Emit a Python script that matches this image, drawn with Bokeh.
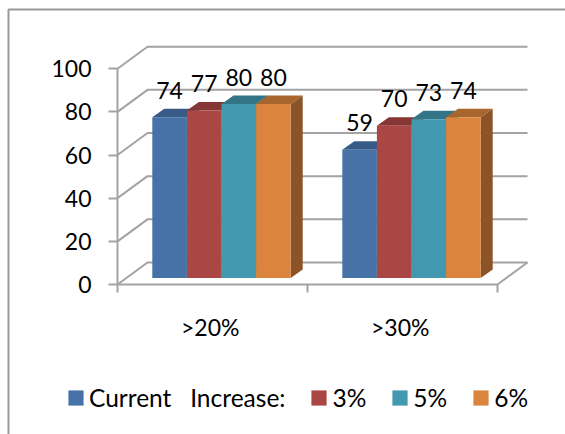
from bokeh.core.properties import value
from bokeh.embed import file_html
from bokeh.models import BoxAnnotation, ColumnDataSource, FixedTicker, Legend, LegendItem, LinearAxis, Range1d
from bokeh.plotting import figure
from bokeh.resources import INLINE

# Chart values
groups = [">20%", ">30%"]
series_names = ["Current\u00a0\u00a0\u00a0Increase:", "3%", "5%", "6%"]
current = [74, 59]
increase_3 = [77, 70]
increase_5 = [80, 73]
increase_6 = [80, 74]
value_ticks = [0, 20, 40, 60, 80, 100]

# Face colours per series: front, top, side
front_colors = ["#4672A8", "#AA4644", "#4198AF", "#DB843D"]
top_colors = ["#375B86", "#863635", "#337587", "#A8652E"]
side_colors = ["#35557E", "#7F3433", "#2F6E80", "#8A5428"]

FONT = "Lato"
FONT_SIZE = "23px"
LEGEND_FONT_SIZE = "24.5px"
AXIS_GRAY = "#A3A3A3"

# Pixel scale of the two axes and where the origin sits on the page
PX_PER_GROUP = 190.0
PX_PER_UNIT = 2.158
ORIGIN_X, ORIGIN_Y = 117, 284
WIDTH, HEIGHT = 565, 434


def px_x(px):
    return px / PX_PER_GROUP


def px_y(px):
    return px / PX_PER_UNIT


p = figure(
    width=WIDTH,
    height=HEIGHT,
    output_backend="svg",
    toolbar_location=None,
    x_axis_type=None,
    y_axis_type=None,
    x_range=Range1d(px_x(-ORIGIN_X), px_x(WIDTH - ORIGIN_X)),
    y_range=Range1d(px_y(ORIGIN_Y - HEIGHT), px_y(ORIGIN_Y)),
    min_border=0,
    background_fill_color="white",
    border_fill_color="white",
    outline_line_color=None,
)
p.grid.visible = False

# Outer frame of the chart area: only its left and top edges fall on the page
p.add_layout(BoxAnnotation(
    left=8, right=640, top=9, bottom=520,
    left_units="canvas", right_units="canvas", top_units="canvas", bottom_units="canvas",
    fill_alpha=0, line_color="#9A9A9A", line_alpha=1, line_width=2,
))

# Back wall: each gridline runs up the side wall and across the rear plane
WALL_DX, WALL_DY = px_x(30), px_y(22)
x_end = len(groups)
grid_xs = [[0, WALL_DX, x_end + WALL_DX] for _ in value_ticks]
grid_ys = [[t, t + WALL_DY, t + WALL_DY] for t in value_ticks]
p.multi_line(grid_xs, grid_ys, line_color=AXIS_GRAY, line_width=2)
p.line([x_end, x_end + WALL_DX], [0, WALL_DY], line_color=AXIS_GRAY, line_width=2)

# 3D columns
BAR_W = px_x(34.6)
BAR_START = px_x(34.8)
BAR_BASE = px_y(6.4)
BAR_STRETCH = 1.008
DEPTH_X, DEPTH_Y = px_x(12), px_y(8.5)

all_series = [current, increase_3, increase_5, increase_6]
legend_items = []
for s, values in enumerate(all_series):
    lefts = [g + BAR_START + s * BAR_W for g in range(len(groups))]
    rights = [x + BAR_W for x in lefts]
    tops = [BAR_BASE + v * BAR_STRETCH for v in values]
    bases = [BAR_BASE] * len(values)

    p.patches(
        [[l, r, r + DEPTH_X, l + DEPTH_X] for l, r in zip(lefts, rights)],
        [[t, t, t + DEPTH_Y, t + DEPTH_Y] for t in tops],
        fill_color=top_colors[s], line_color=None,
    )
    p.patches(
        [[r, r + DEPTH_X, r + DEPTH_X, r] for r in rights],
        [[b, b + DEPTH_Y, t + DEPTH_Y, t] for b, t in zip(bases, tops)],
        fill_color=side_colors[s], line_color=None,
    )
    source = ColumnDataSource(dict(
        left=lefts, right=rights, top=tops, bottom=bases,
        x=[(l + r) / 2 for l, r in zip(lefts, rights)],
        label=[str(v) for v in values],
    ))
    front = p.quad(
        left="left", right="right", top="top", bottom="bottom", source=source,
        fill_color=front_colors[s], line_color=None,
    )
    p.text(
        x="x", y="top", text="label", source=source,
        text_font=value(FONT), text_font_size=value(FONT_SIZE), text_color="black",
        text_align="center", text_baseline="middle", y_offset=-27,
    )
    legend_items.append(LegendItem(label=series_names[s], renderers=[front]))

# Value axis, pinned to the group origin inside the canvas
y_axis = LinearAxis(
    fixed_location=0,
    bounds=(value_ticks[0], value_ticks[-1]),
    ticker=FixedTicker(ticks=value_ticks),
    axis_line_color=AXIS_GRAY, axis_line_width=2,
    major_tick_line_color=AXIS_GRAY, major_tick_line_width=2,
    major_tick_out=9, major_tick_in=0,
    minor_tick_line_color=None,
    major_label_text_font=FONT, major_label_text_font_size=FONT_SIZE,
    major_label_text_color="black", major_label_standoff=17,
)
p.add_layout(y_axis, "left")

# Group axis: ticks on the group boundaries, labels near the group centres
LABEL_NUDGE = -0.012
x_axis = LinearAxis(
    fixed_location=0,
    bounds=(0, len(groups)),
    ticker=FixedTicker(ticks=[i + 0.5 + LABEL_NUDGE for i in range(len(groups))],
                       minor_ticks=list(range(len(groups) + 1))),
    major_label_overrides={i + 0.5 + LABEL_NUDGE: g for i, g in enumerate(groups)},
    axis_line_color=AXIS_GRAY, axis_line_width=2,
    major_tick_line_color=None, major_tick_in=0, major_tick_out=0,
    minor_tick_line_color=AXIS_GRAY, minor_tick_line_width=2,
    minor_tick_out=8, minor_tick_in=0,
    major_label_text_font=FONT, major_label_text_font_size=FONT_SIZE,
    major_label_text_color="black", major_label_standoff=20,
)
p.add_layout(x_axis, "below")

# Legend swatches fill 80% of their glyph box
legend = Legend(
    items=legend_items, orientation="horizontal",
    location=(66, 22),
    padding=0, margin=0, spacing=24,
    glyph_width=19, glyph_height=19, label_standoff=4, label_height=15,
    label_text_font=FONT, label_text_font_size=LEGEND_FONT_SIZE, label_text_color="black",
    background_fill_alpha=0, border_line_color=None,
)
p.add_layout(legend)

open("out.html", "w").write(file_html(p, INLINE))
